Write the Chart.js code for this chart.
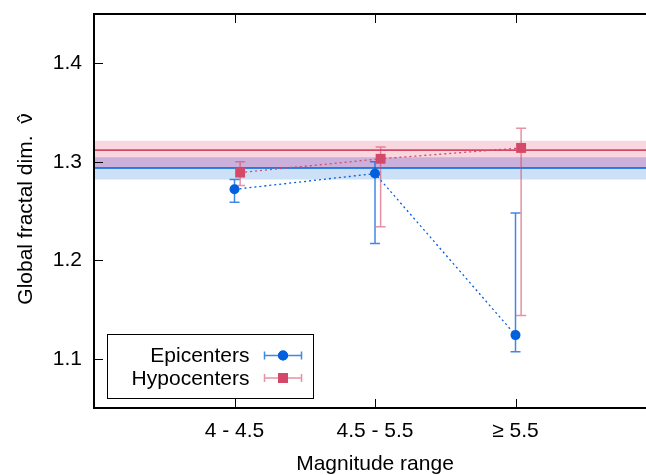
<!DOCTYPE html>
<html><head><meta charset="utf-8">
<script src="https://cdn.jsdelivr.net/npm/chart.js@4.4.0/dist/chart.umd.min.js"></script>
<style>html,body{margin:0;padding:0;overflow:hidden;background:#fff}#wrap{width:680px;height:475px}</style>
</head><body><div id="wrap"><canvas id="c" width="680" height="475"></canvas></div>
<script>
// ---- data ----
const categories = ['4 - 4.5', '4.5 - 5.5', '\u2265 5.5'];
const categoryX = [1, 2, 3];
const hypoOffset = 0.04;
const epiValues = [1.272, 1.288, 1.124];
const epiLow    = [1.259, 1.217, 1.107];
const epiHigh   = [1.282, 1.300, 1.248];
const hypoValues = [1.289, 1.303, 1.314];
const hypoLow    = [1.276, 1.234, 1.144];
const hypoHigh   = [1.300, 1.315, 1.334];
const epiGlobal = 1.2937;
const epiGlobalBand = [1.2819, 1.3045];
const hypoGlobal = 1.3118;
const hypoGlobalBand = [1.2937, 1.3214];
const yTicks = [1.1, 1.2, 1.3, 1.4];
const xRange = [0, 4];
const yRange = [1.05, 1.45];
const seriesLabels = ['Epicenters', 'Hypocenters'];
const xTitle = 'Magnitude range';
const yTitleMain = 'Global fractal dim.  \u03BD';
const yTitleHat = '\u02C6';

// ---- styles ----
const BLUE = '#0060dd', PINK = '#d4486a';
const BLUE_ERR = 'rgba(0,96,221,0.75)', PINK_ERR = 'rgba(214,72,106,0.6)';
const FONT = "'Liberation Sans', Arial, sans-serif";

const hypoX = categoryX.map(v => v + hypoOffset);
const pts = (xs, ys) => xs.map((x, i) => ({x, y: ys[i]}));
const flat = v => [{x: xRange[0], y: v}, {x: xRange[1], y: v}];
const ovLow = Math.max(epiGlobalBand[0], hypoGlobalBand[0]);
const ovHigh = Math.min(epiGlobalBand[1], hypoGlobalBand[1]);

const band = (hi, lo, color, order) => ({
  data: flat(hi), fill: {value: lo}, backgroundColor: color,
  borderWidth: 0, pointRadius: 0, order
});

const errorBars = {
  id: 'errorBars',
  beforeDatasetDraw(chart, args) {
    if (args.index !== 5) return;
    const ctx = chart.ctx, xs = chart.scales.x, ys = chart.scales.y;
    const sets = [[categoryX, epiLow, epiHigh, BLUE_ERR], [hypoX, hypoLow, hypoHigh, PINK_ERR]];
    ctx.save();
    ctx.lineWidth = 1.5;
    for (const [X, L, H, col] of sets) {
      ctx.strokeStyle = col;
      X.forEach((x, i) => {
        const px = xs.getPixelForValue(x), pl = ys.getPixelForValue(L[i]), ph = ys.getPixelForValue(H[i]);
        ctx.beginPath();
        ctx.moveTo(px, pl); ctx.lineTo(px, ph);
        ctx.moveTo(px - 5, pl); ctx.lineTo(px + 5, pl);
        ctx.moveTo(px - 5, ph); ctx.lineTo(px + 5, ph);
        ctx.stroke();
      });
    }
    ctx.restore();
  }
};

const frameAndTicks = {
  id: 'frameAndTicks',
  afterDatasetsDraw(chart) {
    const ctx = chart.ctx, a = chart.chartArea, xs = chart.scales.x, ys = chart.scales.y;
    ctx.save();
    ctx.strokeStyle = '#000';
    ctx.lineWidth = 1;
    ctx.beginPath();
    yTicks.forEach(v => {
      const p = Math.round(ys.getPixelForValue(v)) + 0.5;
      ctx.moveTo(a.left, p); ctx.lineTo(a.left + 9, p);
      ctx.moveTo(a.right, p); ctx.lineTo(a.right - 9, p);
    });
    categoryX.forEach(v => {
      const p = Math.round(xs.getPixelForValue(v)) + 0.5;
      ctx.moveTo(p, a.bottom); ctx.lineTo(p, a.bottom - 9);
      ctx.moveTo(p, a.top); ctx.lineTo(p, a.top + 9);
    });
    ctx.stroke();
    ctx.lineWidth = 2;
    ctx.strokeRect(a.left, a.top, a.right - a.left, a.bottom - a.top);
    ctx.restore();
  },
  afterDraw(chart) {
    const ctx = chart.ctx, a = chart.chartArea;
    // y-axis title (nu with hat)
    ctx.save();
    ctx.font = '21px ' + FONT;
    ctx.fillStyle = '#000';
    ctx.translate(26, (a.top + a.bottom) / 2 - 2);
    ctx.rotate(-Math.PI / 2);
    ctx.textBaseline = 'middle';
    ctx.textAlign = 'center';
    const w = ctx.measureText(yTitleMain).width, wn = ctx.measureText('\u03BD').width;
    ctx.fillText(yTitleMain, 0, 0);
    ctx.fillText(yTitleHat, w / 2 - wn / 2, 0);
    ctx.restore();
    // legend
    const bx = a.left + 13.5, by = a.bottom - 73.5, bw = 206, bh = 64;
    ctx.save();
    ctx.fillStyle = '#fff';
    ctx.fillRect(bx, by, bw, bh);
    ctx.strokeStyle = '#000';
    ctx.lineWidth = 1;
    ctx.strokeRect(bx, by, bw, bh);
    ctx.font = '21px ' + FONT;
    ctx.textAlign = 'right';
    ctx.textBaseline = 'middle';
    const entries = [[seriesLabels[0], BLUE_ERR, chart.data.datasets[5]], [seriesLabels[1], PINK_ERR, chart.data.datasets[6]]];
    entries.forEach(([label, ecol, ds], i) => {
      const cy = by + 21 + i * 22.5;
      ctx.fillStyle = '#000';
      ctx.fillText(label, bx + 142, cy + 1);
      const x0 = bx + 157, x1 = bx + 194, xm = (x0 + x1) / 2;
      ctx.strokeStyle = ecol; ctx.lineWidth = 1.5;
      ctx.beginPath();
      ctx.moveTo(x0, cy); ctx.lineTo(x1, cy);
      ctx.moveTo(x0, cy - 4); ctx.lineTo(x0, cy + 4);
      ctx.moveTo(x1, cy - 4); ctx.lineTo(x1, cy + 4);
      ctx.stroke();
      ctx.fillStyle = ds.pointBackgroundColor;
      Chart.helpers.drawPoint(ctx, {pointStyle: ds.pointStyle, radius: ds.pointRadius, borderWidth: 0, rotation: 0}, xm, cy);
      ctx.fill();
    });
    ctx.restore();
  }
};

new Chart(document.getElementById('c'), {
  type: 'line',
  data: {
    datasets: [
      band(epiGlobalBand[1], epiGlobalBand[0], '#cce0f7', 20),
      band(hypoGlobalBand[1], hypoGlobalBand[0], '#f8d8de', 19),
      band(ovHigh, ovLow, '#cab0da', 18),
      {data: flat(hypoGlobal), borderColor: PINK, borderWidth: 1.6, pointRadius: 0, fill: false, order: 15},
      {data: flat(epiGlobal), borderColor: BLUE, borderWidth: 1.6, pointRadius: 0, fill: false, order: 14},
      {label: seriesLabels[0], data: pts(categoryX, epiValues), borderColor: BLUE, borderWidth: 1.3,
       borderDash: [2, 3], pointStyle: 'circle', pointRadius: 5, pointBackgroundColor: BLUE,
       pointBorderWidth: 0, fill: false, order: 2},
      {label: seriesLabels[1], data: pts(hypoX, hypoValues), borderColor: PINK, borderWidth: 1.3,
       borderDash: [2, 3], pointStyle: 'rect', pointRadius: 7, pointBackgroundColor: PINK,
       pointBorderWidth: 0, fill: false, order: 1}
    ]
  },
  options: {
    responsive: false, animation: false, devicePixelRatio: 1,
    layout: {padding: {left: 0, top: 14, right: 24, bottom: 0}},
    plugins: {legend: {display: false}, tooltip: {enabled: false}},
    scales: {
      x: {
        type: 'linear', min: xRange[0], max: xRange[1],
        grid: {display: false, drawTicks: false}, border: {display: false},
        afterBuildTicks: s => { s.ticks = categoryX.map(v => ({value: v})); },
        afterFit: s => { s.height = 67; s.paddingLeft = 0; s.paddingRight = 0; },
        ticks: {autoSkip: false, maxRotation: 0, padding: 11, color: '#000', font: {family: FONT, size: 21},
                callback: (v) => categories[categoryX.indexOf(v)] ?? ''},
        title: {display: true, text: xTitle, color: '#000', font: {family: FONT, size: 21, lineHeight: 1}, padding: {top: 0, bottom: 0}}
      },
      y: {
        type: 'linear', min: yRange[0], max: yRange[1],
        grid: {display: false, drawTicks: false}, border: {display: false},
        afterBuildTicks: s => { s.ticks = yTicks.map(v => ({value: v})); },
        afterFit: s => { s.width = 94; s.paddingTop = 0; s.paddingBottom = 0; },
        ticks: {padding: 12, color: '#000', font: {family: FONT, size: 21}, callback: v => v.toFixed(1)},
        title: {display: false}
      }
    }
  },
  plugins: [errorBars, frameAndTicks]
});
</script></body></html>
